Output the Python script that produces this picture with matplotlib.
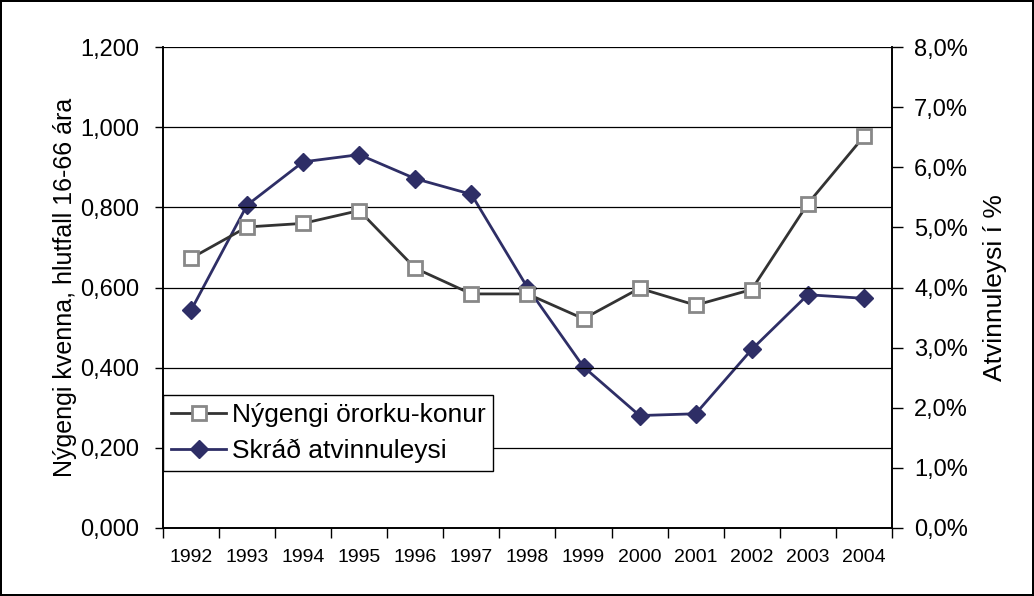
import matplotlib.pyplot as plt
from matplotlib.ticker import FuncFormatter

plt.rcParams['font.family'] = ['Liberation Sans', 'DejaVu Sans']

years = ['1992', '1993', '1994', '1995', '1996', '1997', '1998',
         '1999', '2000', '2001', '2002', '2003', '2004']
# left axis: new disability cases, women (ratio)
nygengi = [0.673, 0.751, 0.760, 0.792, 0.648, 0.584, 0.584,
           0.522, 0.598, 0.556, 0.595, 0.809, 0.977]
# right axis: registered unemployment (%)
atvinnuleysi = [3.62, 5.37, 6.09, 6.21, 5.81, 5.55, 4.00,
                2.68, 1.87, 1.90, 2.97, 3.88, 3.82]

x = list(range(len(years)))

fig = plt.figure(figsize=(10.34, 5.96), dpi=100, edgecolor='black', linewidth=1.5)
ax1 = fig.add_axes([0.1576, 0.1141, 0.705, 0.807])
ax2 = ax1.twinx()

# gridlines on the left axis scale
for v in [0.2, 0.4, 0.6, 0.8, 1.0, 1.2]:
    ax1.axhline(v, color='black', linewidth=0.9, zorder=0)

l1, = ax1.plot(x, nygengi, color='#333333', linewidth=2, marker='s', markersize=10,
               markerfacecolor='white', markeredgecolor='#888888', markeredgewidth=2,
               label='Nýgengi örorku-konur', zorder=3)
l2, = ax2.plot(x, atvinnuleysi, color='#2e2e66', linewidth=2, marker='D', markersize=9,
               markerfacecolor='#2e2e66', markeredgecolor='#2e2e66',
               label='Skráð atvinnuleysi', zorder=3)

ax1.set_xlim(-0.5, len(years) - 0.5)
ax1.set_ylim(0, 1.2)
ax2.set_ylim(0, 8)

ax1.set_yticks([0, 0.2, 0.4, 0.6, 0.8, 1.0, 1.2])
ax1.yaxis.set_major_formatter(FuncFormatter(lambda v, p: f'{v:,.3f}'.replace('.', ',')))
ax2.set_yticks(range(0, 9))
ax2.yaxis.set_major_formatter(FuncFormatter(lambda v, p: f'{v:.1f}%'.replace('.', ',')))

ax1.set_xticks(x)
ax1.set_xticklabels(years, fontsize=14)
ax1.set_xticks([i - 0.5 for i in range(len(years) + 1)], minor=True)
ax1.tick_params(axis='x', which='major', length=0, pad=15)
ax1.tick_params(axis='x', which='minor', length=7, width=1, direction='out')
ax1.tick_params(axis='y', length=6, width=1, direction='out', labelsize=17, pad=11)
ax2.tick_params(axis='y', length=8, width=1, direction='out', labelsize=17, pad=8)

for a in (ax1, ax2):
    for s in a.spines.values():
        s.set_linewidth(1.2)
    a.spines['top'].set_visible(False)

ax1.set_ylabel('Nýgengi kvenna, hlutfall 16-66 ára', fontsize=18, labelpad=2)
ax2.set_ylabel('Atvinnuleysi í %', fontsize=19, labelpad=11)

# legend drawn on top of everything
ax1.set_zorder(ax2.get_zorder() + 1)
ax1.patch.set_visible(False)
ax1.legend(handles=[l1, l2], loc='upper left', bbox_to_anchor=(0.0, 0.2765),
           fontsize=19, frameon=True, fancybox=False, edgecolor='black',
           framealpha=1, borderpad=0.3, handlelength=2.1, handletextpad=0.2,
           labelspacing=0.45, borderaxespad=0)
ax1.get_legend().get_frame().set_linewidth(1.0)

fig.savefig('out.png', dpi=100)
